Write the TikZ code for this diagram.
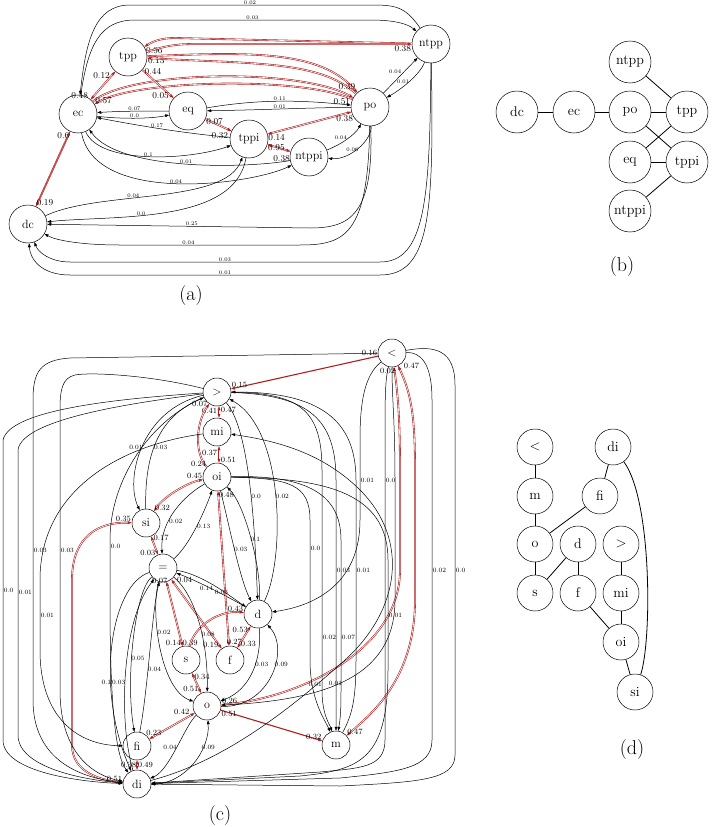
\documentclass[tikz,border=0pt]{standalone}
\usepackage{tikz}
\usetikzlibrary{arrows.meta}
\definecolor{relred}{RGB}{176,30,30}
\tikzset{
  >={Triangle[length=4pt,width=2.8pt]},
  rel/.style={circle,draw,line width=0.5pt,minimum size=38pt,inner sep=0pt,font=\fontsize{12}{12}\selectfont},
  relc/.style={rel,minimum size=28pt},
  relb/.style={rel,minimum size=42pt,font=\fontsize{14}{14}\selectfont},
  reld/.style={rel,minimum size=36pt,font=\fontsize{14}{14}\selectfont},
  arr/.style={->,line width=0.5pt},
  hot/.style={->,draw=relred,double=white,double distance=0.6pt,line width=0.6pt},
  hot2/.style={hot,<->},
  hotw/.style={->,draw=relred,line width=1.1pt},
  lnk/.style={line width=0.8pt},
  pa/.style={font=\fontsize{5.5}{6}\selectfont,inner sep=0.5pt},
  pA/.style={font=\fontsize{9}{9}\selectfont,inner sep=0.5pt},
  pc/.style={font=\fontsize{6.5}{7}\selectfont,inner sep=0.5pt},
  pC/.style={font=\fontsize{8}{8}\selectfont,inner sep=0.5pt},
  panelcap/.style={font=\fontsize{20}{20}\selectfont}
}
\begin{document}
\begin{tikzpicture}[x=1pt,y=-1pt]
    \useasboundingbox (0,0) rectangle (712,827);

    % Вершини (a)
    \node[rel] (tpp) at (128,57) {tpp};
    \node[rel] (ec) at (78,114) {ec};
    \node[rel] (eq) at (188,111) {eq};
    \node[rel] (tppi) at (249,139) {tppi};
    \node[rel] (ntppi) at (309,157) {ntppi};
    \node[rel] (po) at (370,107) {po};
    \node[rel] (ntpp) at (431,44) {ntpp};
    \node[rel] (dc) at (28,224) {dc};

    % Червоні ребра (a)
    \draw[hot] (ntpp) -- (175,38) .. controls (160,38) and (152,42) .. node[pA,pos=1,anchor=north west,xshift=1pt]{0.96} (tpp);
    \draw[hot] (tpp) .. controls (160,48) and (170,44) .. (195,44) -- node[pA,pos=1,anchor=north east,yshift=-1pt]{0.38} (ntpp);
    \draw[hot] (tpp) .. controls (250,52) and (320,50) .. node[pA,pos=0,anchor=north west]{0.13} (po);
    \draw[hot] (po) .. controls (320,60) and (250,64) .. node[pA,pos=0,anchor=south east,yshift=3pt]{0.39} (tpp);
    \draw[hot] (ec) .. controls (130,70) and (300,68) .. (po);
    \draw[hot] (po) .. controls (300,76) and (135,80) .. node[pA,pos=1,anchor=south west]{0.57} (ec);
    \draw[hot2] (tpp) -- node[pA,pos=.15,left=1pt]{0.12} node[pA,pos=1,anchor=south east,xshift=-2pt]{0.48} (ec);
    \draw[hot] (tpp) -- node[pA,pos=.05,anchor=west]{0.44} node[pA,pos=.9,left=1pt]{0.05} (eq);
    \draw[hot] (eq) -- node[pA,pos=.35,above=-2pt]{0.07} node[pA,pos=.9,anchor=north east,yshift=-2pt]{0.32} (tppi);
    \draw[hot2] (po) -- node[pA,pos=.08,below=1pt]{0.38} node[pA,pos=1,anchor=north west]{0.14} (tppi);
    \draw[hot2] (tppi) -- node[pA,pos=0,anchor=north west,yshift=1pt]{0.95} node[pA,pos=1,anchor=north east,yshift=-3pt]{0.38} (ntppi);
    \draw[hot2] (dc) -- node[pA,pos=0,anchor=south west]{0.19} node[pA,pos=1,anchor=north east]{0.6} (ec);
    \draw[relred,line width=0.5pt] (dc) -- (ec);

    % Чорні ребра (a)
    \draw[arr] (ntpp) .. controls (405,6) and (395,5) .. (370,5) -- node[pa,above=-0.5pt]{0.02} (130,5) .. controls (95,5) and (86,40) .. (ec);
    \draw[arr] (ec) .. controls (88,45) and (100,20) .. (135,20) -- node[pa,above=-0.5pt]{0.03} (370,20) .. controls (395,20) and (408,24) .. (ntpp);
    \draw[arr] (eq) .. controls (150,111) and (120,111) .. node[pa,above=-0.5pt]{0.07} (ec);
    \draw[arr] (ec) .. controls (120,119) and (150,119) .. node[pa,above=-0.5pt]{0.0} (eq);
    \draw[arr] (tppi) .. controls (180,133) and (130,124) .. node[pa,above=-0.5pt]{0.17} (ec);
    \draw[arr] (ec) .. controls (100,165) and (190,160) .. node[pa,above=-0.5pt]{0.1} (tppi);
    \draw[arr] (ntppi) .. controls (250,168) and (120,172) .. node[pa,above=-0.5pt]{0.01} (ec);
    \draw[arr] (ec) .. controls (95,205) and (250,185) .. node[pa,above=-0.5pt]{0.04} (ntppi);
    \draw[arr] (eq) .. controls (260,99) and (300,100) .. node[pa,above=-0.5pt]{0.11} node[pA,pos=1,anchor=south east]{0.51} (po);
    \draw[arr] (po) .. controls (300,108) and (260,110) .. node[pa,above=-0.5pt]{0.01} (eq);
    \draw[arr] (po) -- node[pa,pos=.6,left=2pt]{0.04} (ntpp);
    \draw[arr] (ntpp) .. controls (420,75) and (400,90) .. node[pa,pos=.5,left=-1pt]{0.01} (po);
    \draw[arr] (ntppi) .. controls (340,145) and (355,135) .. node[pa,pos=.5,above left=-1pt]{0.04} (po);
    \draw[arr] (po) .. controls (372,140) and (350,160) .. node[pa,pos=.5,below left=-1pt]{0.06} (ntppi);
    \draw[arr] (dc) .. controls (100,190) and (225,205) .. node[pa,pos=.4,above=-0.5pt]{0.04} (tppi);
    \draw[arr] (tppi) .. controls (235,225) and (110,215) .. node[pa,pos=.6,above=-0.5pt]{0.0} (dc);
    \draw[arr] (po) .. controls (374,215) and (350,228) .. (310,228) -- node[pa,pos=.45,above=-0.5pt]{0.25} (dc);
    \draw[arr] (po) .. controls (368,235) and (345,245) .. (300,245) -- node[pa,pos=.62,above=-0.5pt]{0.04} (120,245) .. controls (80,245) and (55,240) .. (dc);
    \draw[arr] (ntpp) .. controls (430,200) and (425,262) .. (380,262) -- node[pa,above=-0.5pt]{0.03} (70,262) .. controls (50,262) and (38,252) .. (dc);
    \draw[arr] (ntpp) .. controls (434,215) and (430,275) .. (380,275) -- node[pa,above=-0.5pt]{0.01} (70,275) .. controls (40,275) and (30,258) .. (dc);

    \node[panelcap] (capa) at (191,296) {(a)};

    % Вершини (b)
    \node[relb] (bntpp) at (630,62) {ntpp};
    \node[relb] (bdc) at (517,112) {dc};
    \node[relb] (bec) at (574,112) {ec};
    \node[relb] (bpo) at (630,112) {po};
    \node[relb] (btpp) at (687,112) {tpp};
    \node[relb] (beq) at (630,162) {eq};
    \node[relb] (btppi) at (687,162) {tppi};
    \node[relb] (bntppi) at (630,211) {ntppi};

    % Ребра (b)
    \draw[lnk] (bdc) -- (bec);
    \draw[lnk] (bec) -- (bpo);
    \draw[lnk] (bpo) -- (btpp);
    \draw[lnk] (bntpp) -- (btpp);
    \draw[lnk] (bpo) -- (btppi);
    \draw[lnk] (beq) -- (btpp);
    \draw[lnk] (beq) -- (btppi);
    \draw[lnk] (bntppi) -- (btppi);

    \node[panelcap] (capb) at (622,267) {(b)};

    % Вершини (c)
    \node[relc] (cl) at (392,353) {$<$};
    \node[relc] (cg) at (217,392) {$>$};
    \node[relc] (cmi) at (217,432) {mi};
    \node[relc] (coi) at (217,477) {oi};
    \node[relc] (csi) at (146,523) {si};
    \node[relc] (ceq) at (163,568) {$=$};
    \node[relc] (cd) at (258,614) {d};
    \node[relc] (cs) at (186,660) {s};
    \node[relc] (cf) at (230,660) {f};
    \node[relc] (co) at (207,706) {o};
    \node[relc] (cfi) at (137,746) {fi};
    \node[relc] (cdi) at (137,784) {di};
    \node[relc] (cm) at (336,745) {m};

    % Червоні ребра (c)
    \draw[hotw] (cl) -- node[pC,pos=0,anchor=south east,yshift=-1pt]{0.16} node[pC,pos=1,anchor=south west]{0.15} (cg);
    \draw[hot2] ([xshift=2pt]cg.south) -- node[pC,pos=.4,left=1pt]{0.41} node[pC,pos=.3,right=1pt]{0.47} ([xshift=2pt]cmi.north);
    \draw[hot2] ([xshift=2pt]cmi.south) -- node[pC,pos=.4,left=1pt]{0.37} node[pC,pos=.8,right=1pt]{0.51} ([xshift=2pt]coi.north);
    \draw[hot] (coi) .. controls (195,455) and (195,425) .. node[pC,pos=0,anchor=east,yshift=3pt]{0.24} node[pC,pos=1,anchor=east,xshift=-1pt]{0.07} (cg);
    \draw[hot2] (coi) .. controls (190,482) and (165,495) .. node[pC,pos=0,anchor=south east]{0.45} node[pC,pos=1,anchor=south west]{0.32} (csi);
    \draw[hot2] (csi) -- node[pC,pos=.1,right=1pt]{0.17} node[pC,pos=.9,left=1pt]{0.03} (ceq);
    \draw[hot2] (csi) .. controls (100,522) and (72,535) .. node[pC,pos=0,anchor=south east]{0.35} (72,580) -- (72,745) .. controls (72,772) and (100,780) .. node[pC,pos=1,anchor=south east]{0.51} (cdi);
    \draw[hot2] (coi) -- node[pC,pos=0,anchor=north west]{0.48} node[pC,pos=1,anchor=south west,xshift=-3pt]{0.27} (cf);
    \draw[hot2] (ceq) -- node[pC,pos=.95,left=0pt]{0.14} node[pC,pos=.95,right=0pt]{0.39} (cs);
    \draw[hot2] (ceq) -- node[pC,pos=.95,left=0pt]{0.19} (cf);
    \draw[hot] (cs) .. controls (195,625) and (220,610) .. node[pC,pos=1,anchor=south east]{0.43} (cd);
    \draw[hot2] (cf) -- node[pC,pos=.85,left=0pt]{0.53} node[pC,pos=.2,right=0pt]{0.33} (cd);
    \draw[hot2] (cs) -- node[pC,pos=.2,right=0pt]{0.34} node[pC,pos=.8,left=0pt]{0.51} (co);
    \draw[hot2] (co) -- node[pC,pos=.1,above left=0pt]{0.42} node[pC,pos=.9,above=0pt]{0.23} (cfi);
    \draw[hot2] (cfi) -- node[pC,pos=.5,left=0pt]{0.38} node[pC,pos=.5,right=0pt]{0.49} (cdi);
    \draw[hotw] (co) -- node[pC,pos=0,anchor=north west]{0.51} node[pC,pos=1,anchor=south east]{0.32} (cm);
    \draw[hot2] (cl) .. controls (398,395) and (400,420) .. node[pC,pos=0,anchor=north east,xshift=2pt]{0.02} (400,470) -- (400,570) .. controls (400,650) and (300,698) .. node[pC,pos=1,anchor=south west]{0.26} (co);
    \draw[hot2] (cl) .. controls (412,395) and (415,420) .. node[pC,pos=0,anchor=west,xshift=5pt]{0.47} (415,470) -- (415,600) .. controls (415,680) and (370,715) .. node[pC,pos=1,anchor=south west]{0.47} (cm);

    % Чорні ребра (c)
    \draw[arr] (cg) .. controls (140,410) and (125,480) .. node[pc,pos=.5,left=-1pt]{0.01} (csi);
    \draw[arr] (csi) .. controls (145,470) and (150,420) .. node[pc,pos=.5,right=-1pt]{0.03} (cg);
    \draw[arr] (coi) .. controls (185,495) and (160,520) .. node[pc,pos=.65,right=0pt]{0.02} (ceq);
    \draw[arr] (ceq) .. controls (190,545) and (205,510) .. node[pc,pos=.5,right=0pt]{0.13} (coi);
    \draw[arr] (cg) .. controls (250,430) and (255,530) .. node[pc,pos=.55,right=-0.5pt]{0.0} (cd);
    \draw[arr] (cd) .. controls (285,560) and (285,430) .. node[pc,pos=.5,right=-0.5pt]{0.02} (cg);
    \draw[arr] (coi) .. controls (228,520) and (240,580) .. node[pc,pos=.5,right=-1pt]{0.03} (cd);
    \draw[arr] (cd) .. controls (262,570) and (245,505) .. node[pc,pos=.5,right=-1pt]{0.1} (coi);
    \draw[arr] (coi) .. controls (290,478) and (310,485) .. (310,520) -- node[pc,pos=.2,right=0pt]{0.0} (310,660) .. controls (310,700) and (325,720) .. (cm);
    \draw[arr] (cg) .. controls (310,395) and (336,420) .. (336,480) -- node[pc,pos=.5,right=0pt]{0.03} (336,660) .. controls (336,700) and (336,715) .. (cm);
    \draw[arr] (cm) .. controls (352,715) and (356,700) .. (356,660) -- node[pc,pos=.5,right=0pt]{0.01} (356,480) .. controls (356,420) and (320,392) .. (cg);
    \draw[arr] (cg) .. controls (300,393) and (322,410) .. (322,470) -- node[pc,pos=.76,right=0pt]{0.02} (322,690) .. controls (322,715) and (330,725) .. (cm);
    \draw[arr] (coi) .. controls (300,475) and (341,490) .. (341,540) -- node[pc,pos=.65,right=0pt]{0.07} (341,690) .. controls (341,715) and (340,720) .. (cm);
    \draw[arr] (cl) .. controls (365,375) and (360,400) .. (360,440) -- node[pc,pos=.5,right=0pt]{0.01} (360,520) .. controls (360,580) and (320,605) .. (cd);
    \draw[arr] (cl) .. controls (385,380) and (385,400) .. (385,440) -- node[pc,pos=.5,right=0pt]{0.0} (385,520) -- (385,740) .. controls (385,768) and (360,768) .. (320,772) -- (cdi);
    \draw[arr] (cl) .. controls (420,352) and (432,362) .. (432,400) -- node[pc,pos=.5,right=0pt]{0.02} (432,740) .. controls (432,768) and (400,772) .. (340,778) -- (cdi);
    \draw[arr] (cl) .. controls (435,345) and (455,350) .. (455,385) -- node[pc,pos=.5,right=0pt]{0.0} (455,755) .. controls (455,780) and (420,782) .. (340,786) -- (cdi);
    \draw[arr] (cl) -- (70,358) .. controls (40,360) and (33,372) .. (33,400) -- node[pc,pos=.5,right=0pt]{0.03} (33,700) .. controls (33,760) and (80,778) .. (cdi);
    \draw[arr] (cg) .. controls (150,375) and (90,372) .. (75,375) .. controls (62,378) and (60,390) .. (60,410) -- node[pc,pos=.5,right=0pt]{0.03} (60,690) .. controls (60,755) and (95,776) .. (cdi);
    \draw[arr] (cg) .. controls (130,398) and (10,408) .. (3,440) -- node[pc,pos=.5,right=0pt]{0.0} (3,740) .. controls (3,772) and (80,782) .. (cdi);
    \draw[arr] (cg) .. controls (140,402) and (22,418) .. (18,450) -- node[pc,pos=.5,right=0pt]{0.01} (18,735) .. controls (18,768) and (85,780) .. (cdi);
    \draw[arr] (cmi) .. controls (120,445) and (40,490) .. (40,580) -- node[pc,pos=.5,right=0pt]{0.01} (40,650) .. controls (40,720) and (80,745) .. (cfi);
    \draw[arr] (cg) .. controls (150,420) and (110,480) .. (110,540) -- node[pc,pos=.1,right=0pt]{0.0} (110,600) .. controls (110,700) and (115,755) .. (cdi);
    \draw[arr] (ceq) .. controls (135,590) and (125,680) .. node[pc,pos=.6,right=-1pt]{0.05} (cfi);
    \draw[arr] (cfi) .. controls (148,690) and (152,610) .. node[pc,pos=.4,right=-1pt]{0.04} (ceq);
    \draw[arr] (ceq) .. controls (110,585) and (95,690) .. node[pc,pos=.65,left=-1pt]{0.1} node[pC,pos=0,anchor=north west,xshift=2pt,yshift=-5pt]{0.07} (cdi);
    \draw[arr] (cdi) .. controls (118,720) and (122,620) .. node[pc,pos=.45,left=-1pt]{0.03} (ceq);
    \draw[arr] (ceq) .. controls (150,610) and (160,690) .. node[pc,pos=.4,right=-1pt]{0.02} (co);
    \draw[arr] (ceq) .. controls (195,595) and (208,640) .. node[pc,pos=.6,right=-1pt]{0.08} (co);
    \draw[arr] (cd) .. controls (230,598) and (200,582) .. node[pc,pos=.6,below=-0.5pt]{0.14} node[pC,pos=1,anchor=north west,yshift=-3pt]{0.04} (ceq);
    \draw[arr] (ceq) .. controls (205,575) and (235,600) .. node[pc,pos=.55,below=-0.5pt]{0.03} (cd);
    \draw[arr] (cd) .. controls (262,660) and (250,690) .. node[pc,pos=.4,right=-1pt]{0.03} (co);
    \draw[arr] (co) .. controls (270,708) and (290,650) .. node[pc,pos=.6,right=-1pt]{0.09} (cd);
    \draw[arr] (co) .. controls (185,725) and (170,770) .. node[pc,pos=.5,left=-1pt]{0.04} (cdi);
    \draw[arr] (cdi) .. controls (185,785) and (210,750) .. node[pc,pos=.7,right=-2pt]{0.09} (co);
    \draw[arr] (cdi) .. controls (230,760) and (300,700) .. node[pc,pos=.8,above=-1pt]{0.01} (345,660) .. controls (400,610) and (410,540) .. (360,490) .. controls (320,450) and (270,440) .. (cmi);
    \draw[arr] (cl) .. controls (392,400) and (395,420) .. (395,480) -- (395,600) .. controls (395,680) and (320,700) .. node[pc,pos=.55,above=-1pt]{0.01} (co);
    \draw[arr] (coi) .. controls (320,478) and (388,490) .. (388,560) -- node[pc,pos=.5,right=0pt]{0.01} (388,670) .. controls (388,760) and (360,770) .. (300,776) -- (cdi);

    \node[panelcap] (capc) at (220,815) {(c)};

    % Вершини (d)
    \node[reld] (dlt) at (535,447) {$<$};
    \node[reld] (ddi) at (613,447) {di};
    \node[reld] (dm) at (535,496) {m};
    \node[reld] (dfi) at (600,496) {fi};
    \node[reld] (do) at (535,544) {o};
    \node[reld] (dd) at (578,544) {d};
    \node[reld] (dgt) at (621,544) {$>$};
    \node[reld] (ds) at (535,593) {s};
    \node[reld] (df) at (578,593) {f};
    \node[reld] (dmi) at (621,593) {mi};
    \node[reld] (doi) at (621,642) {oi};
    \node[reld] (dsi) at (635,692) {si};

    % Ребра (d)
    \draw[lnk] (dlt) -- (dm);
    \draw[lnk] (dm) -- (do);
    \draw[lnk] (do) -- (dfi);
    \draw[lnk] (dfi) -- (ddi);
    \draw[lnk] (do) -- (ds);
    \draw[lnk] (ds) -- (dd);
    \draw[lnk] (dd) -- (df);
    \draw[lnk] (df) -- (doi);
    \draw[lnk] (dgt) -- (dmi);
    \draw[lnk] (dmi) -- (doi);
    \draw[lnk] (doi) -- (dsi);
    \draw[lnk] (ddi) .. controls (652,500) and (652,640) .. (dsi);

    \node[panelcap] (capd) at (632,750) {(d)};
\end{tikzpicture}
\end{document}
